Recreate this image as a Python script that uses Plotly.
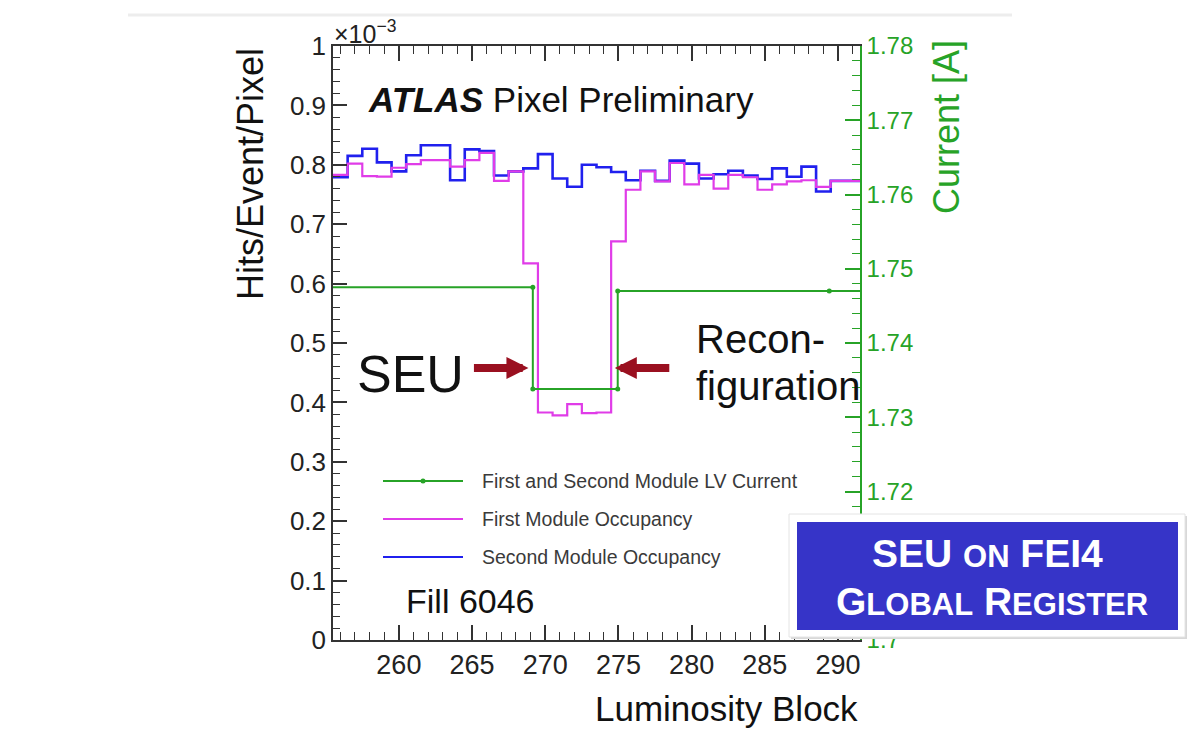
import plotly.graph_objects as go

# ---------------- data ----------------
lumi_block = list(range(256, 292))  # bin centres (bin width 1)
second_module_occ = [0.779, 0.815, 0.827, 0.804, 0.789, 0.816, 0.833, 0.833, 0.774, 0.826,
                     0.823, 0.782, 0.789, 0.794, 0.818, 0.777, 0.763, 0.800, 0.796, 0.788,
                     0.774, 0.790, 0.773, 0.807, 0.802, 0.777, 0.784, 0.790, 0.782, 0.776,
                     0.794, 0.780, 0.797, 0.755, 0.773, 0.773]
first_module_occ = [0.783, 0.802, 0.781, 0.780, 0.795, 0.801, 0.808, 0.808, 0.797, 0.808,
                    0.820, 0.773, 0.789, 0.634, 0.383, 0.378, 0.397, 0.382, 0.383, 0.671,
                    0.758, 0.789, 0.772, 0.803, 0.767, 0.783, 0.760, 0.783, 0.779, 0.758,
                    0.767, 0.772, 0.774, 0.763, 0.773, 0.773]
current_lb = [250.0, 269.15, 269.15, 274.95, 274.95, 289.4, 300.0]
current_val = [1.7475, 1.7475, 1.7338, 1.7338, 1.7470, 1.7470, 1.7470]

x_ticks = [260, 265, 270, 275, 280, 285, 290]
legend_labels = ["First and Second Module LV Current", "First Module Occupancy", "Second Module Occupancy"]

# ---------------- styles ----------------
FONT = "Liberation Sans, Arial, Helvetica, sans-serif"
GREEN = "#27a327"
MAGENTA = "#e03ce8"
BLUE = "#2020ee"
AXC = "#333333"
W, H = 1203, 729
L, R, T, B = 333, 860, 46, 640


def px(x):
    return (x - L) / (R - L)


def py(y):
    return (B - y) / (B - T)


def step_xy(centres, vals):
    edges = [c - 0.5 for c in centres] + [centres[-1] + 0.5]
    return edges, list(vals) + [vals[-1]]


fig = go.Figure()

ex, ey = step_xy(lumi_block, second_module_occ)
fig.add_trace(go.Scatter(x=ex, y=ey, mode="lines", line=dict(color=BLUE, width=2.6, shape="hv"),
                         name=legend_labels[2], showlegend=False))
ex, ey = step_xy(lumi_block, first_module_occ)
fig.add_trace(go.Scatter(x=ex, y=ey, mode="lines", line=dict(color=MAGENTA, width=2.2, shape="hv"),
                         name=legend_labels[1], showlegend=False))
fig.add_trace(go.Scatter(x=current_lb, y=current_val, mode="lines+markers", yaxis="y2",
                         line=dict(color=GREEN, width=2), marker=dict(color=GREEN, size=5),
                         name=legend_labels[0], showlegend=False))

fig.update_layout(
    width=W, height=H, margin=dict(l=L, r=W - R, t=T, b=H - B, pad=0),
    paper_bgcolor="white", plot_bgcolor="white", showlegend=False,
    font=dict(family=FONT, color="#222"),
    xaxis=dict(range=[255.5, 291.5], tickmode="array", tickvals=x_ticks,
               ticks="inside", ticklen=15, tickwidth=1.5, tickcolor=AXC,
               showline=True, linecolor=AXC, linewidth=1.5, mirror="ticks",
               showgrid=False, zeroline=False, tickfont=dict(size=27, color="#222"),
               minor=dict(dtick=1, tick0=0, ticklen=8, ticks="inside", tickcolor=AXC, tickwidth=1.2, showgrid=False)),
    yaxis=dict(range=[0, 1], tickmode="linear", tick0=0, dtick=0.1,
               ticks="inside", ticklen=14, tickwidth=1.5, tickcolor=AXC,
               showline=True, linecolor=AXC, linewidth=1.5,
               showgrid=False, zeroline=False, tickfont=dict(size=26, color="#222"),
               minor=dict(dtick=0.02, ticklen=7, ticks="inside", tickcolor=AXC, tickwidth=1.2, showgrid=False)),
    yaxis2=dict(range=[1.7, 1.78], overlaying="y", side="right", anchor="x",
                tickmode="linear", tick0=1.7, dtick=0.01,
                ticks="inside", ticklen=15, tickwidth=1.5, tickcolor=GREEN,
                showline=True, linecolor=GREEN, linewidth=1.5,
                showgrid=False, zeroline=False, tickfont=dict(size=24, color=GREEN),
                minor=dict(dtick=0.002, ticklen=8, ticks="inside", tickcolor=GREEN, tickwidth=1.2, showgrid=False)),
)

shapes = []
ann = []

# faint rule at the very top of the slide
shapes.append(dict(type="line", xref="paper", yref="paper", x0=px(128), x1=px(1012), y0=py(15), y1=py(15),
                   line=dict(color="#ededed", width=3)))

# axis titles
ann.append(dict(text="Hits/Event/Pixel", xref="paper", yref="paper", x=px(250), y=py(46),
                xanchor="center", yanchor="top", textangle=-90, showarrow=False,
                font=dict(size=36, color="#111")))
ann.append(dict(text="Current [A]", xref="paper", yref="paper", x=px(946), y=py(38),
                xanchor="center", yanchor="top", textangle=-90, showarrow=False,
                font=dict(size=36, color=GREEN)))
ann.append(dict(text="Luminosity Block", xref="paper", yref="paper", x=px(860), y=py(708),
                xanchor="right", yanchor="middle", showarrow=False, font=dict(size=35, color="#111")))
ann.append(dict(text="×10<sup>−3</sup>", xref="paper", yref="paper", x=px(332), y=py(50),
                xanchor="left", yanchor="bottom", showarrow=False, font=dict(size=25, color="#222")))

# plot texts
ann.append(dict(text="<b><i>ATLAS</i></b> Pixel Preliminary", xref="paper", yref="paper",
                x=px(366), y=py(99), xanchor="left", yanchor="middle", showarrow=False,
                font=dict(size=35, color="#111")))
ann.append(dict(text="Fill 6046", xref="paper", yref="paper", x=px(404), y=py(601),
                xanchor="left", yanchor="middle", showarrow=False, font=dict(size=34, color="#111")))
ann.append(dict(text="SEU", xref="paper", yref="paper", x=px(355), y=py(374),
                xanchor="left", yanchor="middle", showarrow=False, font=dict(size=52, color="#111")))
ann.append(dict(text="Recon-", xref="paper", yref="paper", x=px(694), y=py(339),
                xanchor="left", yanchor="middle", showarrow=False, font=dict(size=40, color="#111")))
ann.append(dict(text="figuration", xref="paper", yref="paper", x=px(694), y=py(386),
                xanchor="left", yanchor="middle", showarrow=False, font=dict(size=40, color="#111")))

# arrows
ARROW = "#9a1020"
ann.append(dict(text="", x=268.85, y=0.458, xref="x", yref="y", ax=-56, ay=0, showarrow=True,
                arrowhead=2, arrowsize=0.55, arrowwidth=8, arrowcolor=ARROW))
ann.append(dict(text="", x=274.75, y=0.458, xref="x", yref="y", ax=56, ay=0, showarrow=True,
                arrowhead=2, arrowsize=0.55, arrowwidth=8, arrowcolor=ARROW))

# legend (drawn by hand)
leg_y = [481, 519, 557]
leg_c = [GREEN, MAGENTA, BLUE]
for yy, cc, lab in zip(leg_y, leg_c, legend_labels):
    shapes.append(dict(type="line", xref="paper", yref="paper", x0=px(383), x1=px(463), y0=py(yy), y1=py(yy),
                       line=dict(color=cc, width=2)))
    ann.append(dict(text=lab, xref="paper", yref="paper", x=px(480), y=py(yy), xanchor="left",
                    yanchor="middle", showarrow=False, font=dict(size=19.5, color="#3a3a3a")))
shapes.append(dict(type="circle", xref="paper", yref="paper", x0=px(420.5), x1=px(425.5),
                   y0=py(483.5), y1=py(478.5), fillcolor=GREEN, line=dict(color=GREEN, width=0)))

# highlighted box
shapes.append(dict(type="rect", xref="paper", yref="paper", x0=px(791), x1=px(1187), y0=py(639), y1=py(516),
                   fillcolor="#d8d8d8", line=dict(width=0), layer="above"))
shapes.append(dict(type="rect", xref="paper", yref="paper", x0=px(789), x1=px(1185), y0=py(637), y1=py(514),
                   fillcolor="white", line=dict(color="#e4e4e4", width=1), layer="above"))
shapes.append(dict(type="rect", xref="paper", yref="paper", x0=px(797), x1=px(1178), y0=py(630), y1=py(522),
                   fillcolor="#3634c8", line=dict(width=0), layer="above"))
BIG, SMALL = 39, 31
line1 = f"<b>SEU <span style='font-size:{SMALL}px'>ON</span> FEI4</b>"
line2 = (f"<b>G<span style='font-size:{SMALL}px'>LOBAL</span> R"
         f"<span style='font-size:{SMALL}px'>EGISTER</span></b>")
ann.append(dict(text=line1, xref="paper", yref="paper", x=px(987), y=py(553), xanchor="center",
                yanchor="middle", showarrow=False, font=dict(size=BIG, color="white")))
ann.append(dict(text=line2, xref="paper", yref="paper", x=px(992), y=py(601), xanchor="center",
                yanchor="middle", showarrow=False, font=dict(size=BIG, color="white")))

fig.update_layout(shapes=shapes, annotations=ann)
fig.write_html("out.html")
